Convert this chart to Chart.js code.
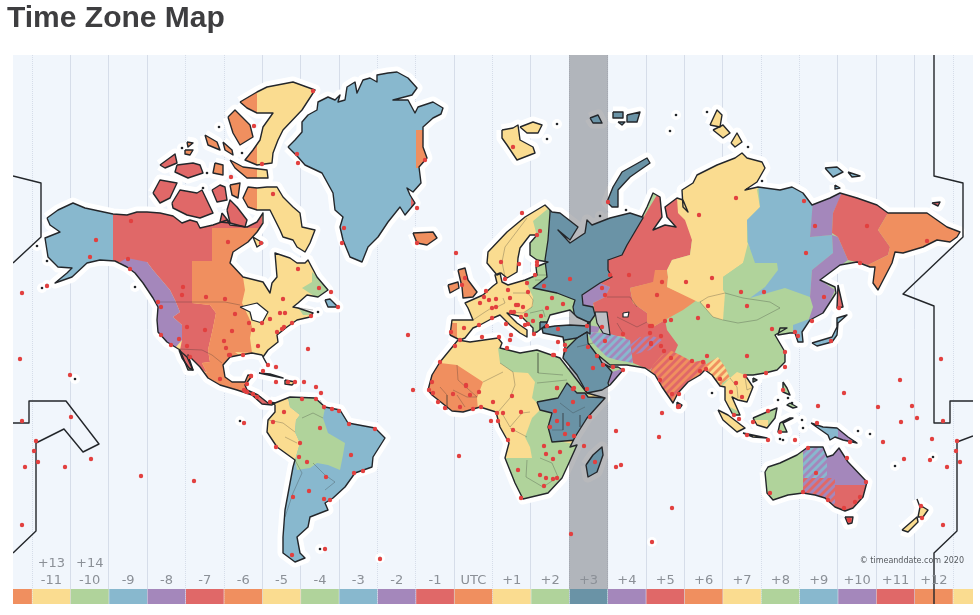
<!DOCTYPE html>
<html>
<head>
<meta charset="utf-8">
<title>Time Zone Map</title>
<script src="https://cdn.jsdelivr.net/npm/chart.js@4"></script>
<style>
  html, body { margin: 0; padding: 0; background: #fff; }
  canvas { display: block; }
</style>
</head>
<body>
<canvas id="map" width="980" height="615"></canvas>
<script>
// Zone strip and axis labels
const zoneHours = [-12,-11,-10,-9,-8,-7,-6,-5,-4,-3,-2,-1,0,1,2,3,4,5,6,7,8,9,10,11,12,13];
const zoneLabels = ['','-11','-10','-9','-8','-7','-6','-5','-4','-3','-2','-1','UTC','+1','+2','+3','+4','+5','+6','+7','+8','+9','+10','+11','+12',''];
const upperHours = [-11,-10];
const upperLabels = ['+13','+14'];
const solidEdges = [-10.5,-9.5,-8.5,-5.5,-4.5,-3.5,-0.5,1.5,4.5,5.5,6.5,9.5,10.5,11.5];
const dottedEdges = [-11.5,-7.5,-6.5,-2.5,-1.5,0.5,2.5,3.5,7.5,8.5,12.5];

const ORANGE = '#f08f5f', YELLOW = '#fadc90', GREEN = '#b0d39b', BLUE = '#88b8ce', PURPLE = '#a487bb', RED = '#e06868', TEAL = '#6a93a6';
const zoneColors = [ORANGE,YELLOW,GREEN,BLUE,PURPLE,RED,ORANGE,YELLOW,GREEN,BLUE,PURPLE,RED,ORANGE,YELLOW,GREEN,TEAL,PURPLE,RED,ORANGE,YELLOW,GREEN,BLUE,PURPLE,RED,ORANGE,YELLOW];

// Date line, read in map units
const dateLineWest1 = [13,176, 41,183, 41,237, 13,263];
const dateLineWest2 = [13,423, 29,423, 29,401, 66,401, 99,444, 83,452, 64,429, 36,443, 36,531, 13,553];
const dateLineEast1 = [934,55, 934,176, 963,183, 963,237, 903,294, 934,306, 934,423, 950,423, 950,401, 973,401];
const dateLineEast2 = [973,436, 957,442, 957,531, 934,553, 934,604];

// Land outlines
const northAmerica = [47,218, 58,210, 73,203, 85,208, 113,214, 127,215, 137,212, 147,212, 160,213, 173,216, 182,223, 190,220, 197,222, 200,228, 213,225, 227,220, 230,225, 247,227, 257,222, 263,213, 263,223, 257,232, 248,242, 233,252, 230,263, 243,277, 263,282, 270,293, 272,283, 277,277, 275,253, 290,258, 297,263, 305,263, 308,260, 317,277, 328,290, 318,297, 307,295, 298,303, 293,307, 298,308, 313,313, 310,317, 297,320, 287,327, 277,335, 278,342, 268,350, 263,357, 268,366, 262,355, 252,353, 240,355, 230,357, 223,365, 225,377, 232,382, 245,382, 248,375, 252,376, 245,385, 247,390, 258,395, 268,403, 275,403, 272,405, 262,404, 252,395, 237,390, 220,385, 208,378, 200,367, 188,355, 193,370, 188,370, 180,350, 167,342, 158,332, 157,320, 158,307, 153,298, 143,283, 135,273, 127,267, 115,261, 100,260, 87,263, 72,277, 55,283, 67,273, 72,268, 58,267, 48,257, 45,238, 60,232, 50,225];
const greenland = [288,147, 295,140, 302,132, 302,122, 308,115, 317,110, 318,102, 328,97, 335,100, 340,95, 338,102, 345,100, 347,87, 355,82, 357,93, 363,80, 370,78, 377,82, 377,75, 388,73, 397,72, 408,78, 417,88, 412,95, 393,100, 408,100, 415,113, 418,107, 433,102, 443,108, 441,114, 433,118, 423,127, 423,147, 427,158, 419,167, 421,183, 413,192, 407,188, 410,195, 415,203, 405,215, 400,207, 388,222, 378,237, 368,247, 362,262, 350,257, 343,240, 340,227, 343,217, 335,210, 333,193, 322,173, 305,165, 298,157];
const baffin = [257,188, 267,187, 277,187, 283,197, 293,207, 300,213, 302,227, 315,230, 310,243, 305,252, 297,247, 293,240, 283,237, 280,230, 270,210, 257,210, 248,207, 243,198, 248,187];
const ellesmere = [240,102, 257,92, 267,87, 293,82, 315,90, 302,110, 283,130, 278,140, 273,153, 272,163, 257,165, 245,160, 253,150, 260,140, 263,127, 273,113, 257,113, 247,108];
const devon = [230,160, 243,167, 267,170, 268,178, 247,178, 235,168];
const southampton = [253,237, 263,243, 257,247];
const victoria = [172,203, 180,190, 197,193, 202,190, 213,213, 200,218, 187,215, 173,208];
const banks = [153,193, 160,180, 177,183, 170,198, 160,203];
const princeWales = [212,190, 220,185, 225,187, 227,200, 217,202];
const somerset = [230,185, 240,183, 238,198, 232,195];
const boothia = [227,210, 230,200, 237,207, 247,220, 245,227, 230,223];
const kingWilliam = [222,213, 230,223, 220,222];
const melville = [160,165, 175,154, 177,163, 165,168];
const bathurst = [177,165, 193,163, 200,165, 203,173, 188,178, 175,172];
const cornwallis = [215,163, 223,165, 223,175, 213,173];
const axelHeiberg = [228,117, 235,110, 250,125, 253,137, 240,145, 233,133];
const amundRingnes = [205,135, 217,142, 220,150, 208,145];
const cornwall = [223,142, 232,150, 233,155, 225,150];
const lougheed = [185,150, 193,150, 190,155, 185,154];
const borden = [187,142, 193,143, 188,147];
const iceland = [413,233, 433,232, 437,238, 427,245, 417,243];
const newfoundland = [325,300, 330,299, 338,307, 328,307];
const baja = [179,350, 187,357, 193,370, 189,368, 182,358];
const cuba = [259,373, 270,374, 283,378, 273,376];
const hispaniola = [285,380, 295,382, 292,385, 285,384];
const southAmerica = [270,402, 275,403, 290,397, 315,398, 325,407, 340,410, 348,423, 375,428, 385,438, 373,457, 372,467, 355,473, 345,487, 333,498, 325,503, 328,510, 310,517, 308,527, 297,537, 300,553, 305,558, 295,562, 283,553, 283,537, 285,510, 293,467, 295,460, 277,447, 267,432, 268,420, 275,412, 275,405];
const britain = [458,270, 465,268, 468,280, 477,292, 473,297, 463,298, 462,287];
const ireland = [448,285, 458,282, 459,288, 450,293];
const eurasia = [450,335, 452,320, 473,320, 468,308, 465,303, 483,295, 493,286, 497,283, 495,275, 500,273, 502,282, 508,285, 525,280, 537,275, 536,267, 548,262, 537,260, 530,255, 530,243, 537,235, 530,235, 520,248, 518,258, 517,272, 507,278, 501,273, 497,275, 487,263, 488,252, 507,232, 525,217, 545,205, 552,212, 560,213, 578,227, 570,240, 558,230, 570,243, 585,233, 587,220, 592,225, 610,218, 630,213, 642,217, 647,207, 653,193, 660,197, 662,217, 653,230, 665,225, 676,227, 667,217, 665,207, 677,198, 683,200, 688,212, 683,207, 682,190, 693,183, 697,175, 717,165, 735,158, 742,153, 747,158, 762,162, 765,168, 757,182, 745,190, 758,187, 780,190, 792,187, 803,193, 812,205, 830,198, 840,193, 857,198, 877,205, 888,213, 907,213, 927,213, 947,227, 960,232, 957,237, 950,242, 937,240, 923,247, 903,253, 895,252, 892,263, 878,290, 873,283, 875,267, 870,267, 857,262, 840,265, 820,280, 835,287, 836,293, 823,313, 810,320, 802,332, 803,342, 798,342, 795,333, 790,333, 778,335, 780,328, 787,328, 775,335, 785,352, 785,362, 777,370, 765,373, 753,375, 745,375, 753,387, 747,402, 738,400, 732,397, 740,415, 733,415, 725,400, 725,387, 720,386, 712,375, 705,370, 700,375, 688,382, 678,393, 673,403, 662,387, 655,375, 645,368, 627,365, 610,365, 598,355, 602,363, 610,367, 618,367, 623,370, 610,385, 602,390, 587,393, 577,375, 563,358, 565,348, 563,337, 543,333, 542,328, 555,326, 570,325, 587,326, 588,322, 577,317, 570,310, 562,312, 550,315, 546,325, 537,332, 533,333, 533,328, 522,317, 507,313, 517,323, 527,330, 527,337, 520,333, 510,325, 500,315, 493,318, 480,325, 473,328, 465,338, 460,340];
const africa = [458,340, 470,342, 498,338, 502,343, 500,348, 520,353, 537,350, 560,358, 587,393, 605,398, 587,418, 575,437, 570,447, 577,445, 568,465, 562,478, 548,493, 523,499, 515,483, 505,458, 509,443, 500,427, 496,412, 480,407, 463,412, 452,411, 432,395, 428,390, 432,375, 440,362];
const madagascar = [586,465, 593,455, 602,447, 603,455, 597,472, 588,477];
const svalbard = [502,130, 513,128, 518,125, 520,140, 533,147, 535,153, 517,160, 507,145, 502,138];
const nordaust = [520,127, 533,122, 542,125, 538,133, 527,133];
const franzJosef1 = [590,118, 598,115, 602,123, 593,123];
const franzJosef2 = [613,112, 623,112, 623,118, 613,118];
const franzJosef3 = [627,115, 640,112, 637,122, 627,122];
const franzJosef4 = [618,122, 625,122, 622,125];
const novayaZemlya = [613,187, 622,172, 647,158, 650,163, 630,177, 618,190, 618,207, 612,207, 607,202];
const severnaya1 = [710,125, 717,110, 722,115, 720,127];
const severnaya2 = [713,130, 723,125, 730,133, 723,138];
const severnaya3 = [731,143, 737,133, 742,142, 735,147];
const newSiberia1 = [825,168, 837,167, 843,172, 833,177];
const newSiberia2 = [848,172, 860,176, 852,177];
const newSiberia3 = [835,185, 840,188, 835,189];
const wrangel = [932,203, 940,202, 938,206];
const sakhalin = [838,285, 843,307, 837,308];
const japan = [812,343, 832,337, 837,327, 837,318, 847,315, 838,323, 837,335, 832,342, 817,346];
const sriLanka = [677,402, 682,405, 680,408, 677,407];
const hainan = [753,378, 757,380, 753,382];
const luzon = [783,382, 787,388, 790,395, 783,392];
const mindanao = [790,403, 797,407, 793,408, 787,405];
const sumatra = [718,410, 728,415, 745,428, 737,432, 723,420];
const java = [743,433, 767,438, 753,437];
const borneo = [753,418, 767,412, 777,408, 775,418, 767,428, 757,425];
const sulawesi = [780,423, 790,418, 793,418, 783,423, 787,432, 778,432];
const newGuinea = [811,423, 823,427, 837,428, 848,437, 857,443, 843,440, 835,437, 830,440, 828,435, 818,428];
const australia = [765,472, 768,467, 780,463, 797,455, 808,447, 823,447, 827,457, 833,455, 839,448, 848,462, 867,482, 863,497, 853,508, 845,511, 835,507, 825,498, 815,495, 803,493, 788,495, 773,500, 767,493];
const tasmania = [845,517, 853,517, 852,523, 848,524];
const nzNorth = [917,499, 920,507, 923,507, 928,510, 923,517, 918,517, 920,507];
const nzSouth = [902,530, 917,517, 918,522, 908,532];
const lands = [
  [northAmerica,YELLOW],[greenland,BLUE],[baffin,YELLOW],[ellesmere,YELLOW],[devon,YELLOW],[southampton,YELLOW],[victoria,RED],[banks,RED],[princeWales,RED],[somerset,ORANGE],[boothia,RED],[kingWilliam,RED],[melville,RED],[bathurst,RED],[cornwallis,ORANGE],[axelHeiberg,ORANGE],[amundRingnes,ORANGE],[cornwall,ORANGE],[lougheed,ORANGE],[borden,ORANGE],
  [iceland,ORANGE],[newfoundland,BLUE],[baja,RED],[cuba,YELLOW],[hispaniola,YELLOW],[southAmerica,BLUE],[britain,ORANGE],[ireland,ORANGE],[eurasia,GREEN],[africa,YELLOW],[madagascar,TEAL],[svalbard,YELLOW],[nordaust,YELLOW],[franzJosef1,TEAL],[franzJosef2,TEAL],[franzJosef3,TEAL],[franzJosef4,TEAL],[novayaZemlya,TEAL],[severnaya1,YELLOW],[severnaya2,YELLOW],[severnaya3,YELLOW],[newSiberia1,BLUE],[newSiberia2,BLUE],[newSiberia3,BLUE],[wrangel,RED],[sakhalin,RED],[japan,BLUE],[sriLanka,YELLOW],[hainan,GREEN],[luzon,GREEN],[mindanao,GREEN],[sumatra,YELLOW],[java,YELLOW],[borneo,GREEN],[sulawesi,GREEN],[newGuinea,BLUE],[australia,GREEN],[tasmania,RED],[nzNorth,YELLOW],[nzSouth,YELLOW]
];

// Time zone areas, each trimmed to its land outline when drawn
const naBlue = [30,190, 113,190, 113,265, 100,300, 30,300];
const naRed = [113,200, 262,200, 262,228, 212,228, 212,261, 192,261, 192,303, 210,305, 216,313, 213,328, 208,350, 210,362, 202,363, 207,373, 195,365, 180,350, 182,340, 182,325, 173,317, 180,312, 175,300, 170,290, 153,270, 147,262, 113,262];
const naOrange = [212,228, 262,228, 262,262, 243,277, 245,290, 242,303, 250,320, 252,327, 250,338, 252,353, 235,352, 262,372, 280,405, 230,400, 190,370, 207,373, 202,363, 210,362, 208,350, 213,328, 216,313, 210,305, 192,303, 192,261, 212,261];
const naPurple = [127,258, 147,262, 153,270, 170,290, 175,300, 180,312, 173,317, 182,325, 182,340, 175,348, 150,345, 125,280, 120,262];
const naCentral = [247,388, 258,392, 272,403, 262,406, 250,397];
const labrador = [312,272, 332,290, 320,300, 302,288, 312,282];
const novaScotia = [298,307, 307,305, 315,315, 303,315];
const arcticWest = [200,80, 257,80, 257,215, 200,215];
const arcticDevon = [225,155, 257,155, 257,182, 225,182];
const greenlandEast = [416,130, 430,130, 430,168, 416,168];
const greenlandSouth = [411,197, 420,197, 420,212, 411,212];
const saYellow = [288,398, 290,407, 300,415, 296,420, 295,432, 300,443, 295,460, 260,450, 260,395];
const saGreen = [288,395, 315,395, 325,408, 323,418, 328,433, 345,443, 343,455, 340,470, 328,465, 317,463, 310,468, 297,470, 295,460, 300,443, 295,432, 296,420, 300,415, 290,407];
const westEurope = [440,300, 480,280, 525,280, 533,297, 533,306, 524,313, 527,322, 530,330, 520,345, 440,345];
const scandinavia = [475,260, 478,230, 500,205, 550,198, 550,207, 533,221, 537,236, 528,240, 518,285, 490,285];
const portugal = [445,323, 457,323, 457,338, 445,338];
const russiaWest = [550,200, 640,200, 643,218, 627,245, 622,255, 608,260, 608,270, 612,277, 600,283, 582,295, 583,305, 593,307, 595,315, 590,322, 587,325, 575,318, 573,307, 575,300, 557,293, 533,288, 547,277, 545,260, 548,240, 550,213];
const turkey = [540,322, 590,322, 590,334, 587,332, 577,338, 565,340, 540,342];
const middleEast = [566,349, 577,338, 587,332, 588,343, 597,355, 603,362, 612,372, 608,383, 612,395, 580,400, 555,375];
const oman = [612,372, 625,368, 630,372, 617,385, 608,383];
const samara = [600,283, 610,287, 605,297, 593,303, 593,307, 583,305, 582,295];
const caucasus = [587,325, 600,327, 598,332, 590,333];
const centralRed = [643,218, 660,190, 680,190, 678,197, 683,213, 690,220, 692,240, 690,255, 672,260, 667,270, 655,270, 655,282, 630,288, 633,303, 647,313, 647,322, 653,327, 665,320, 667,330, 678,345, 675,352, 660,358, 650,370, 645,368, 633,363, 625,337, 610,335, 607,312, 595,312, 593,303, 605,297, 610,287, 600,283, 612,277, 608,270, 608,260, 622,255, 627,245];
const kazakhOrange = [630,288, 653,282, 655,270, 667,270, 668,277, 667,287, 697,300, 683,310, 665,320, 653,327, 647,322, 647,313, 633,303];
const siberiaYellow = [677,198, 683,190, 697,170, 735,150, 770,160, 757,190, 760,207, 747,220, 747,242, 750,247, 743,263, 723,277, 723,290, 725,293, 698,302, 667,287, 668,277, 667,270, 672,260, 690,255, 692,240, 685,220, 678,213];
const mongoliaWest = [700,302, 708,297, 725,293, 723,320, 713,317];
const irkutsk = [748,243, 755,263, 777,263, 778,270, 765,287, 750,298, 725,293, 723,277, 743,263];
const yakutsk = [758,180, 785,180, 803,190, 813,205, 810,237, 832,235, 833,253, 812,270, 810,297, 785,288, 750,298, 765,287, 778,270, 777,263, 755,263, 748,243, 747,220, 760,207];
const yakutEast = [813,200, 837,190, 843,192, 833,213, 832,235, 810,237];
const amur = [832,235, 838,237, 848,260, 825,277, 820,280, 835,290, 825,313, 808,322, 813,307, 810,297, 812,270, 833,253];
const magadan = [843,190, 885,200, 888,213, 878,230, 890,247, 888,255, 868,265, 848,260, 838,237, 832,233, 833,213];
const kamchatka = [885,200, 970,215, 970,250, 880,300, 865,268, 868,265, 888,255, 890,247, 878,230, 888,213];
const korea = [793,325, 812,318, 806,345, 793,345];
const seAsia = [723,385, 730,378, 737,372, 745,375, 758,387, 747,408, 735,405, 745,420, 730,420, 720,400];
const malaya = [730,407, 745,415, 738,420, 730,418];
const africaWest = [440,363, 457,365, 483,382, 477,398, 478,410, 452,415, 425,392, 430,375];
const africaNorth = [498,348, 500,363, 513,372, 528,373, 535,382, 532,398, 537,403, 565,403, 590,395, 560,352, 520,347];
const africaSouth = [540,410, 552,413, 552,440, 580,445, 570,467, 562,480, 548,495, 523,502, 503,458, 532,458, 530,447, 525,437, 532,418];
const africaEast = [537,402, 558,398, 567,383, 577,393, 585,393, 588,397, 610,398, 590,425, 577,440, 552,442, 548,427, 552,413, 540,410];
const borneoSouth = [750,420, 768,420, 768,432, 750,432];
const guineaEast = [838,420, 860,420, 860,450, 838,450];
const qldPurple = [827,440, 875,440, 875,485, 835,485, 835,478, 827,478];
const vicRed = [835,485, 875,485, 875,515, 835,515];
const zoneAreas = [
  [naBlue,BLUE,northAmerica],[naRed,RED,northAmerica],[naOrange,ORANGE,northAmerica],[naPurple,PURPLE,northAmerica],[naCentral,RED,northAmerica],[labrador,GREEN,northAmerica],[novaScotia,GREEN,northAmerica],
  [arcticWest,ORANGE,baffin],[arcticWest,ORANGE,ellesmere],[arcticDevon,ORANGE,devon],[greenlandEast,ORANGE,greenland],[greenlandSouth,RED,greenland],
  [saYellow,YELLOW,southAmerica],[saGreen,GREEN,southAmerica],
  [westEurope,YELLOW,eurasia],[scandinavia,YELLOW,eurasia],[portugal,ORANGE,eurasia],[russiaWest,TEAL,eurasia,true],[turkey,TEAL,eurasia,true],[middleEast,TEAL,eurasia,true],[oman,PURPLE,eurasia],[samara,PURPLE,eurasia],[caucasus,PURPLE,eurasia],
  [centralRed,RED,eurasia],[kazakhOrange,ORANGE,eurasia],[siberiaYellow,YELLOW,eurasia],[mongoliaWest,YELLOW,eurasia],[irkutsk,GREEN,eurasia],[yakutsk,BLUE,eurasia],[yakutEast,PURPLE,eurasia],[amur,PURPLE,eurasia],[magadan,RED,eurasia],[kamchatka,ORANGE,eurasia],[korea,BLUE,eurasia],[seAsia,YELLOW,eurasia],[malaya,GREEN,eurasia],
  [africaWest,ORANGE,africa],[africaNorth,GREEN,africa],[africaSouth,GREEN,africa],[africaEast,TEAL,africa,true],
  [borneoSouth,YELLOW,borneo],[guineaEast,PURPLE,newGuinea],[qldPurple,PURPLE,australia],[vicRed,RED,australia]
];

// Half hour zones, drawn as two colour stripes
const iran = [587,332, 607,333, 630,340, 633,363, 617,360, 607,357, 593,343];
const afghanistan = [630,345, 640,337, 653,336, 662,340, 650,350, 633,355];
const india = [653,365, 662,355, 670,350, 680,355, 693,362, 705,360, 708,372, 700,378, 690,390, 673,405, 660,390, 650,372];
const myanmar = [705,365, 718,357, 725,367, 730,378, 722,383, 725,400, 720,390, 712,378];
const northernTerritory = [803,440, 827,440, 827,478, 803,478];
const southAustralia = [803,478, 835,478, 835,512, 803,512];
const halfHourAreas = [
  [iran,BLUE,PURPLE,eurasia],[afghanistan,RED,PURPLE,eurasia],[india,RED,ORANGE,eurasia],[myanmar,YELLOW,ORANGE,eurasia],
  [northernTerritory,BLUE,PURPLE,australia],[southAustralia,RED,PURPLE,australia]
];

// Lakes and enclosed seas
const greatLakes = [240,307, 257,303, 268,312, 262,323, 252,320, 250,312];
const caspian = [595,312, 607,312, 610,335, 603,333, 597,323];
const aral = [623,313, 629,312, 628,317, 623,317];

// Thin country borders
const borderLines = [
  [158,302, 225,302, 240,305],[179,349, 202,350, 212,355, 222,363],[293,307, 313,310],
  [268,420, 283,423, 295,432],[285,437, 297,443],[295,460, 302,473, 293,493, 285,517],[313,463, 325,475, 335,482, 325,490],[302,418, 313,413, 323,418],[320,400, 325,410],
  [500,363, 513,372, 515,385, 510,398, 498,412],[483,382, 503,372],[457,365, 458,380, 477,397],[538,353, 538,373, 563,375],[440,387, 447,395, 447,410],[457,395, 465,407],[477,397, 467,397, 453,390],[537,383, 567,380],[503,415, 510,427, 522,413, 530,412],[510,428, 527,437],[527,460, 526,477, 543,487, 558,477],[540,458, 552,463, 558,477],[560,403, 573,413, 585,407],[563,413, 563,430, 552,430],[580,415, 580,427],
  [577,347, 593,343],[473,320, 485,312, 493,307],[503,298, 505,303, 497,307],[513,293, 528,293, 533,300, 532,307, 523,313],[510,312, 523,313],[530,313, 543,310, 545,317],[527,218, 505,247, 502,262, 505,277],[533,275, 547,275],[535,280, 545,280],
  [607,297, 630,297, 637,307],[617,317, 637,327, 647,322],[617,323, 623,333],
  [700,302, 708,297, 725,293, 743,298, 770,302, 780,308, 757,320, 738,323, 723,320, 713,317, 700,302],[730,378, 737,387, 738,398],[745,377, 747,390, 753,387]
];

// Small islands too tiny to outline
const specks = [547,139, 557,124, 676,115, 670,131, 748,147, 707,112, 762,181, 600,216, 626,210, 75,379, 240,421, 320,549, 380,558, 652,542, 858,431, 870,434, 895,466, 933,457, 712,393, 803,428, 802,420, 778,400, 788,398, 792,403, 780,439, 783,440, 795,440, 47,285, 42,288, 37,246, 47,261, 182,148, 207,173, 203,188, 242,153, 219,127, 318,312, 135,287];

// City markers
const cities = [20,359, 70,375, 71,417, 22,421, 36,441, 34,451, 38,462, 25,467, 65,467, 91,459, 141,476, 194,481, 22,525, 244,423, 325,549, 380,559, 292,555,
  284,412, 273,422, 320,428, 300,443, 276,447, 299,457, 307,462, 351,455, 375,429, 349,424, 339,411, 332,409, 324,407, 316,399, 302,399, 326,477, 309,491, 293,497, 324,499, 330,500, 354,473, 363,471,
  308,349, 268,365, 276,367, 263,371, 251,376, 276,382, 288,382, 295,382, 304,382, 316,387, 321,393, 270,402, 220,379, 244,390, 247,392, 257,397, 230,355, 243,355,
  413,390, 459,456, 183,287, 182,295, 206,297, 225,299, 235,314, 283,299, 319,288, 331,292, 338,307, 280,313, 285,313, 311,316, 292,323, 270,319, 262,323, 249,323, 253,330, 232,331, 205,330, 187,327, 179,339, 187,346, 190,357, 224,341, 226,348, 229,355, 258,346, 277,332, 282,329, 284,327, 161,307, 158,302, 161,335, 171,345, 251,376, 247,384, 245,391, 253,394,
  131,221, 96,240, 90,257, 47,286, 22,293, 128,259, 130,269, 228,242, 298,269, 313,91, 254,126, 262,164, 231,177, 273,194, 261,243, 297,154, 298,163, 344,228, 342,243, 417,208, 417,243, 425,160, 456,253, 408,335,
  465,278, 462,285, 522,213, 501,262, 519,264, 537,235, 540,231, 537,262, 537,265, 535,275, 544,286, 528,292, 508,290, 527,283, 505,279, 486,291, 484,297, 489,300, 496,299, 510,298, 480,303, 492,308, 496,307, 511,312, 516,305, 518,305, 523,307, 514,312, 526,315, 521,317, 533,321, 541,316, 547,308, 563,304, 552,298, 570,279, 602,288, 605,295, 629,275, 657,295, 464,328, 451,332, 479,325, 506,324, 492,318, 482,337, 499,337, 511,335, 510,340, 534,334, 525,325, 528,324, 547,326, 558,329, 558,342, 565,345, 565,350, 554,355, 588,347, 605,341, 623,334, 650,326, 593,368, 574,388, 557,388, 507,348, 455,346, 460,340, 440,362, 466,385, 602,327, 587,326,
  513,147, 736,198, 699,215, 804,201, 815,226, 867,226, 806,253, 860,263, 927,241, 610,275, 662,282, 686,282, 712,278, 741,292, 764,292, 824,297, 747,306, 708,306, 698,318, 772,329, 795,332, 798,336, 812,321, 839,308, 831,341, 665,321, 671,320, 652,326, 650,333, 651,344, 661,336, 608,202,
  747,356, 785,352, 785,367, 766,373, 745,376, 736,383, 731,392, 742,397, 720,379, 707,356, 703,362, 706,369, 700,371, 692,361, 671,358, 664,351, 661,346, 651,343, 597,356, 603,365, 613,367, 623,370, 660,380, 672,394, 679,394, 678,407, 662,413, 659,437, 616,431, 616,467, 621,465, 595,462, 734,415, 739,419, 753,422, 768,411, 780,432, 783,390, 817,423, 818,406, 844,393, 747,435, 768,440, 795,440, 808,448, 847,458, 816,473,
  900,380, 941,359, 878,407, 912,406, 917,418, 901,422, 943,421, 883,442, 932,439, 957,441, 956,451, 960,462, 947,467, 904,459, 930,460, 943,525, 921,506, 922,518, 850,442, 866,482, 860,497, 855,502, 844,508, 828,500, 803,492, 770,493, 849,520, 672,508, 652,542, 571,534, 584,446, 679,406,
  432,382, 429,390, 433,393, 438,402, 445,408, 453,394, 466,386, 470,395, 479,392, 460,407, 473,409, 481,407, 493,402, 497,413, 503,413, 521,412, 512,396, 491,421, 498,421, 513,430, 508,440, 555,411, 557,421, 568,424, 550,427, 565,434, 574,436, 544,446, 560,452, 546,454, 553,459, 518,470, 540,475, 546,478, 553,479, 557,478, 544,486, 521,498, 557,388, 573,402, 573,389, 583,397, 590,417, 587,389, 553,355];

const toPoints = flat => {
  const pts = [];
  for (let i = 0; i < flat.length; i += 2) pts.push({x: flat[i], y: flat[i + 1]});
  return pts;
};
const closed = flat => toPoints(flat.concat(flat.slice(0, 2)));

// Diagonal stripes for the half hour zones
function stripes(a, b) {
  const tile = document.createElement('canvas');
  tile.width = tile.height = 8;
  const c = tile.getContext('2d');
  c.fillStyle = a;
  c.fillRect(0, 0, 8, 8);
  c.strokeStyle = b;
  c.lineWidth = 2.8;
  [[-2,2,2,-2],[0,8,8,0],[6,10,10,6]].forEach(s => {
    c.beginPath();
    c.moveTo(s[0], s[1]);
    c.lineTo(s[2], s[3]);
    c.stroke();
  });
  return c.createPattern(tile, 'repeat');
}

const shape = (flat, extra) => Object.assign({
  type: 'scatter', showLine: true, tension: 0, pointRadius: 0, pointHitRadius: 0,
  borderWidth: 0, fill: false, xAxisID: 'x', yAxisID: 'y', data: closed(flat),
  borderJoinStyle: 'round'
}, extra);

const datasets = [];

// White halo round the coasts
lands.forEach(l => datasets.push(shape(l[0], {borderColor: '#ffffff', borderWidth: 11, backgroundColor: '#ffffff', fill: 'shape'})));
datasets.push({type: 'scatter', xAxisID: 'x', yAxisID: 'y', data: toPoints(specks), pointRadius: 5, pointBackgroundColor: '#ffffff', pointBorderWidth: 0});

// Highlighted +3 column
datasets.push({type: 'bar', grouped: false, xAxisID: 'hours', yAxisID: 'y', data: [{x: 3, y: [55, 589]}], backgroundColor: 'rgba(113,116,122,0.5)', barPercentage: 1, categoryPercentage: 1});

// Land and zones
lands.forEach(l => datasets.push(shape(l[0], {backgroundColor: l[1], fill: 'shape'})));
zoneAreas.forEach(z => datasets.push(shape(z[0], {backgroundColor: z[1], fill: 'shape', clipShape: z[2]})));
halfHourAreas.forEach(h => datasets.push(shape(h[0], {backgroundColor: stripes(h[1], h[2]), fill: 'shape', clipShape: h[3]})));
borderLines.forEach(b => datasets.push(shape(b, {data: toPoints(b), borderColor: 'rgba(45,45,45,0.55)', borderWidth: 0.5})));
zoneAreas.filter(z => z[3]).forEach(z => datasets.push(shape(z[0], {borderColor: '#23262a', borderWidth: 1.3, clipShape: z[2]})));

// Coast lines, lakes
lands.forEach(l => datasets.push(shape(l[0], {borderColor: '#23262a', borderWidth: 1.4})));
[greatLakes, aral].forEach(k => datasets.push(shape(k, {backgroundColor: '#ffffff', fill: 'shape', borderColor: '#23262a', borderWidth: 1.2})));
datasets.push(shape(caspian, {backgroundColor: '#bdbfc4', fill: 'shape', borderColor: '#23262a', borderWidth: 1.2}));
datasets.push({type: 'scatter', xAxisID: 'x', yAxisID: 'y', data: toPoints(specks), pointRadius: 1.3, pointBackgroundColor: '#23262a', pointBorderWidth: 0});

// Colour strip
datasets.push({type: 'bar', grouped: false, xAxisID: 'hours', yAxisID: 'y', data: zoneHours.map(h => ({x: h, y: [589, 604]})), backgroundColor: zoneColors, barPercentage: 0.985, categoryPercentage: 1});

// Date line and cities on top
[dateLineWest1, dateLineWest2, dateLineEast1, dateLineEast2].forEach(d => datasets.push(shape(d, {data: toPoints(d), borderColor: '#23262a', borderWidth: 1.4})));
datasets.push({type: 'scatter', xAxisID: 'x', yAxisID: 'y', data: toPoints(cities), pointRadius: 2.2, pointBackgroundColor: '#e2403f', pointBorderWidth: 0});

// Lower order is drawn on top in Chart.js
datasets.forEach((d, i) => { d.order = datasets.length - i; });

// Zone fills have to be trimmed to their coast before the filler paints them,
// so this hook is registered ahead of the filler
const coastClip = {
  id: 'coastClip',
  beforeDatasetDraw(chart, args) {
    const clip = chart.data.datasets[args.index].clipShape;
    if (!clip) return;
    const ctx = chart.ctx;
    ctx.save();
    ctx.beginPath();
    toPoints(clip).forEach((p, i) => {
      const px = chart.scales.x.getPixelForValue(p.x);
      const py = chart.scales.y.getPixelForValue(p.y);
      if (i) ctx.lineTo(px, py); else ctx.moveTo(px, py);
    });
    ctx.closePath();
    ctx.clip();
  },
  afterDatasetDraw(chart, args) {
    if (chart.data.datasets[args.index].clipShape) chart.ctx.restore();
  }
};
const filler = Chart.registry.plugins.get('filler');
Chart.unregister(filler);
Chart.register(coastClip);
Chart.register(filler);

const ocean = {
  id: 'ocean',
  beforeDraw(chart) {
    const a = chart.chartArea;
    chart.ctx.fillStyle = '#f1f6fc';
    chart.ctx.fillRect(a.left, a.top, a.right - a.left, a.bottom - a.top);
  }
};

const credit = {
  id: 'credit',
  afterDraw(chart) {
    const ctx = chart.ctx;
    ctx.save();
    ctx.font = '8px "DejaVu Sans"';
    ctx.fillStyle = '#55595e';
    ctx.textAlign = 'right';
    ctx.textBaseline = 'middle';
    ctx.fillText('© timeanddate.com 2020', 964, 561);
    ctx.restore();
  }
};

const edgeAxis = (edges, dash) => ({
  type: 'linear', position: 'bottom', min: -12, max: 13.02,
  afterBuildTicks(axis) { axis.ticks = edges.map(value => ({value})); },
  afterFit(axis) { axis.height = 0; },
  ticks: {display: false, autoSkip: false},
  grid: {color: '#d6dde9', lineWidth: 1, drawTicks: false, offset: false},
  border: {display: false, dash: dash}
});

// The labels sit inside the plot, so the big tick padding must not shrink it
const labelAxis = (hours, labels, padding) => ({
  type: 'linear', position: 'top', min: -12, max: 13.02, offset: false,
  afterBuildTicks(axis) { axis.ticks = hours.map(value => ({value})); },
  afterFit(axis) { axis.height = 0; axis.paddingLeft = 0; axis.paddingRight = 0; },
  grid: {display: false, drawTicks: false, offset: false},
  border: {display: false},
  ticks: {
    autoSkip: false, maxRotation: 0, minRotation: 0,
    mirror: true, padding: padding, z: 2, color: '#8b9097',
    font: {family: '"DejaVu Sans"', size: 13},
    callback: v => labels[hours.indexOf(v)]
  }
});

new Chart(document.getElementById('map'), {
  type: 'scatter',
  data: {datasets: datasets},
  plugins: [ocean, credit],
  options: {
    responsive: false,
    animation: false,
    devicePixelRatio: 1,
    events: [],
    layout: {padding: {left: 7, right: 7, top: 0, bottom: 11}},
    plugins: {
      legend: {display: false},
      tooltip: {enabled: false},
      title: {
        display: true,
        text: 'Time Zone Map',
        align: 'start',
        color: '#3e3e40',
        font: {family: '"Liberation Sans", Arial, sans-serif', size: 30, weight: 'bold', lineHeight: 1},
        padding: {top: 4, bottom: 21}
      }
    },
    scales: {
      x: {type: 'linear', min: 13, max: 973, display: false},
      y: {
        type: 'linear', min: 55, max: 604, reverse: true,
        afterFit(axis) { axis.width = 6; },
        ticks: {display: false},
        grid: {display: false},
        border: {display: false}
      },
      hours: labelAxis(zoneHours, zoneLabels, 517.5),
      upperHoursAxis: labelAxis(upperHours, upperLabels, 500.5),
      solidEdge: edgeAxis(solidEdges, []),
      dottedEdge: edgeAxis(dottedEdges, [1, 1])
    }
  }
});
</script>
</body>
</html>
